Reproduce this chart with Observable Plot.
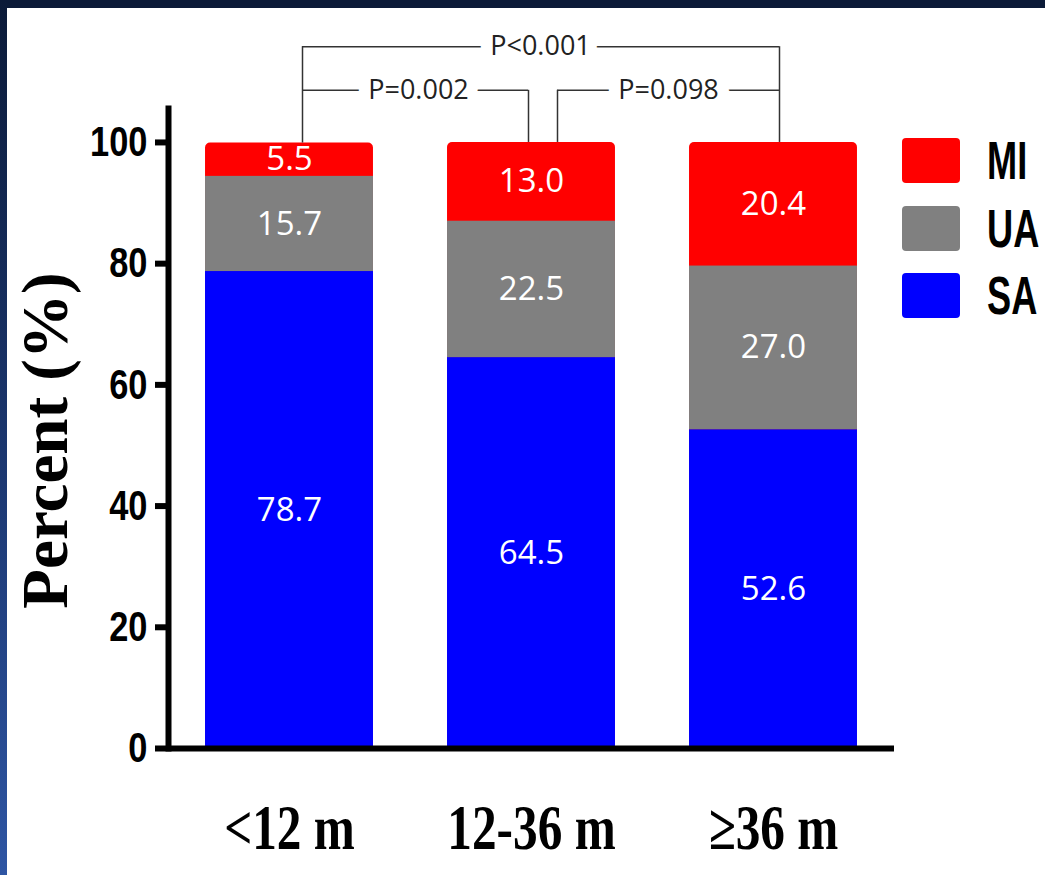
<!DOCTYPE html>
<html>
<head>
<meta charset="utf-8">
<script src="https://cdn.jsdelivr.net/npm/d3@7"></script>
<script src="https://cdn.jsdelivr.net/npm/@observablehq/plot@0.6"></script>
<style>
html, body { margin: 0; padding: 0; }
body { width: 1045px; height: 875px; position: relative; overflow: hidden; background: #0b1a38; }
#edge { position: absolute; left: 0; top: 0; width: 7px; height: 875px; background: linear-gradient(#0b1a38, #1c3872 55%, #2e55a3); }
#chart { position: absolute; left: 7px; top: 8px; width: 1038px; height: 867px; background: #fff; }
#legend { position: absolute; left: 902px; top: 138px; font-family: "Liberation Sans", Arial, sans-serif; font-weight: bold; }
.item { position: relative; height: 67.5px; }
.sw { width: 58px; height: 45px; border-radius: 4px; }
.lab { position: absolute; left: 85px; top: 0; font-size: 54px; line-height: 45px; color: #000; transform: scaleX(0.67); transform-origin: 0 0; white-space: nowrap; }
</style>
</head>
<body>
<div id="edge"></div>
<div id="chart"></div>
<div id="legend"></div>
<script>
// ---- data ----
const categories = ["<12 m", "12-36 m", "≥36 m"];
const types = ["SA", "UA", "MI"];               // stacking order, bottom to top
const saValues = [78.7, 64.5, 52.6];
const uaValues = [15.7, 22.5, 27.0];
const miValues = [5.5, 13.0, 20.4];
const yTicks = [0, 20, 40, 60, 80, 100];
const pLabels = ["P=0.002", "P=0.098", "P<0.001"];
const legendOrder = ["MI", "UA", "SA"];
const typeColors = ["#0000ff", "#808080", "#ff0000"]; // SA, UA, MI

// ---- tables built from the arrays ----
const seriesByType = {SA: saValues, UA: uaValues, MI: miValues};
const rows = categories.flatMap((c, i) => types.map(t => ({category: c, type: t, value: seriesByType[t][i]})));
const totals = categories.map((c, i) => ({category: c, total: saValues[i] + uaValues[i] + miValues[i]}));
const colorOf = t => typeColors[types.indexOf(t)];

const high = 115.8, low = 108.6;
const line = {stroke: "#333", strokeWidth: 1.5};
const ptext = {fill: "#222", stroke: "white", strokeWidth: 24, fontSize: 27, fontFamily: "Open Sans", ariaLabel: "p-value"};

const svg = Plot.plot({
  width: 1038,
  height: 867,
  marginTop: 100,
  marginBottom: 127,
  marginLeft: 161,
  marginRight: 151,
  style: {background: "white", overflow: "visible"},
  x: {domain: categories, paddingInner: 0.306, paddingOuter: 0.153, round: false, axis: null},
  y: {domain: [0, 105.6], axis: null},
  color: {domain: types, range: typeColors},
  marks: [
    Plot.barY(totals, {x: "category", y: "total", fill: colorOf("MI"), rx: 5}),
    Plot.barY(rows.filter(d => d.type !== "MI"), {x: "category", y: "value", fill: "type"}),
    Plot.text(rows, Plot.stackY({x: "category", y: "value", z: "type", text: d => d.value.toFixed(1),
      fill: "white", fontSize: 33, fontFamily: "Open Sans", ariaLabel: "bar-value"})),
    Plot.axisY({ticks: yTicks, tickSize: 13, tickPadding: 8, strokeWidth: 6, fontSize: 43,
      fontWeight: "bold", fontFamily: "Liberation Sans", label: null}),
    Plot.axisX({tickSize: 0, tickPadding: 55, fontSize: 64, fontWeight: "bold",
      fontFamily: "Liberation Serif", label: null}),
    Plot.ruleY([0], {strokeWidth: 6}),
    Plot.frame({anchor: "left", strokeWidth: 6}),
    Plot.text(["Percent (%)"], {frameAnchor: "left", textAnchor: "middle", rotate: -90, dx: -122, dy: 12,
      fontSize: 65, fontWeight: "bold", fontFamily: "Liberation Serif", fill: "black", ariaLabel: "y-title"}),
    // significance brackets
    Plot.ruleY([high], {x1: () => categories[0], x2: () => categories[2], insetLeft: 97, insetRight: 78, ...line}),
    Plot.ruleY([low], {x1: () => categories[0], x2: () => categories[1], insetLeft: 97, insetRight: 87, ...line}),
    Plot.ruleY([low], {x1: () => categories[1], x2: () => categories[2], insetLeft: 110, insetRight: 78, ...line}),
    Plot.ruleX([totals[0]], {x: "category", y1: "total", y2: () => high, dx: 13, ...line}),
    Plot.ruleX([totals[1]], {x: "category", y1: "total", y2: () => low, dx: -3, ...line}),
    Plot.ruleX([totals[1]], {x: "category", y1: "total", y2: () => low, dx: 26, ...line}),
    Plot.ruleX([totals[2]], {x: "category", y1: "total", y2: () => high, dx: 6, ...line}),
    Plot.text([pLabels[2]], {x: () => categories[1], y: () => high, dx: 9, ...ptext}),
    Plot.text([pLabels[0]], {x: () => categories[0], y: () => low, dx: 129, ...ptext}),
    Plot.text([pLabels[1]], {x: () => categories[2], y: () => low, dx: -105, ...ptext})
  ]
});
document.getElementById("chart").append(svg);

// horizontally condensed lettering as in the reference
function squeeze(sel, f) {
  svg.querySelectorAll(sel).forEach(t => {
    const L = t.getComputedTextLength();
    t.setAttribute("textLength", (L * f).toFixed(2));
    t.setAttribute("lengthAdjust", "spacingAndGlyphs");
  });
}
squeeze('g[aria-label="y-axis tick label"] text', 0.8);
squeeze('g[aria-label="x-axis tick label"] text', 0.77);
squeeze('g[aria-label="bar-value"] text', 0.78);
squeeze('g[aria-label="p-value"] text', 0.85);
// rotated title: condense its glyph height (page x direction) about its own centre
svg.querySelectorAll('g[aria-label="y-title"] text').forEach(t => {
  const wrap = document.createElementNS("http://www.w3.org/2000/svg", "g");
  t.parentNode.insertBefore(wrap, t);
  wrap.append(t);
  wrap.style.transformBox = "fill-box";
  wrap.style.transformOrigin = "center";
  wrap.style.transform = "scaleX(0.8)";
});

// legend
const legend = document.getElementById("legend");
legendOrder.forEach(t => {
  const item = document.createElement("div");
  item.className = "item";
  const sw = document.createElement("div");
  sw.className = "sw";
  sw.style.background = colorOf(t);
  const lab = document.createElement("div");
  lab.className = "lab";
  lab.textContent = t;
  item.append(sw, lab);
  legend.append(item);
});
</script>
</body>
</html>
